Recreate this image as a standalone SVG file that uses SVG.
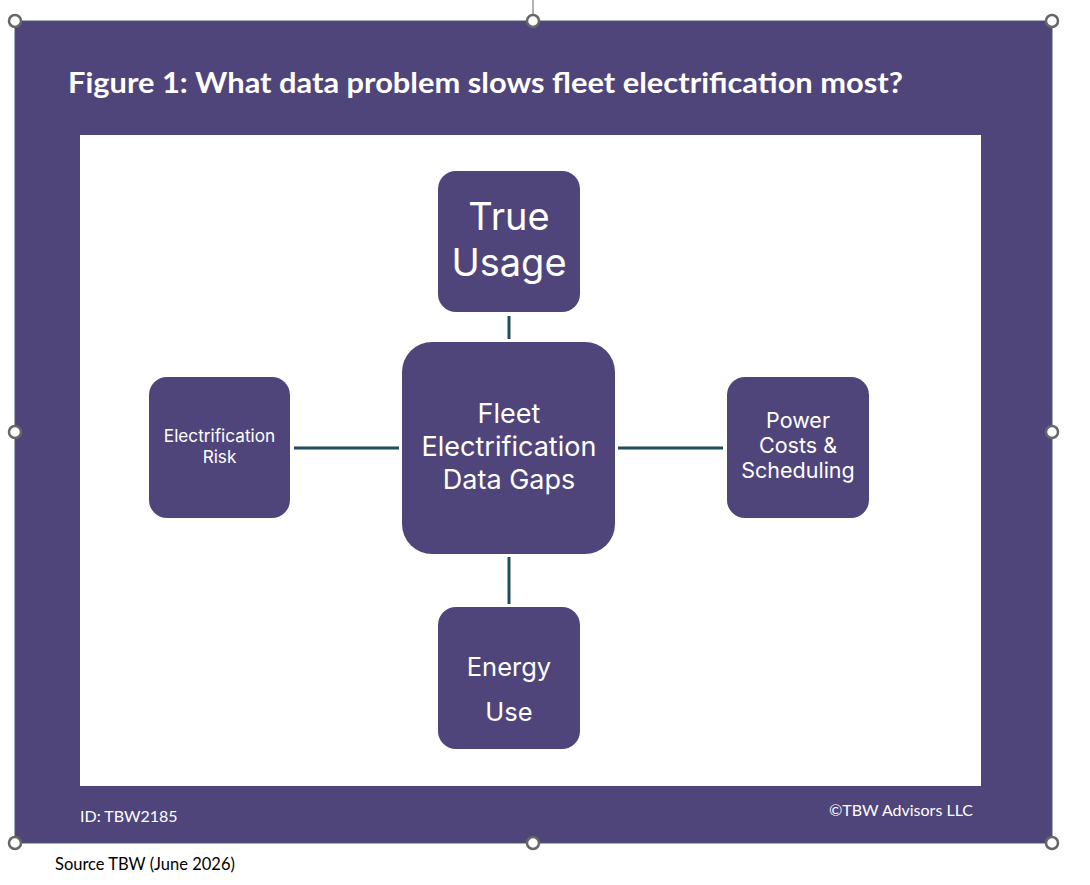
<svg xmlns="http://www.w3.org/2000/svg" width="1090" height="885" viewBox="0 0 1090 885">
<style>
.node{fill:#50457A;}
.nt{fill:#ffffff;font-family:"Inter","Open Sans","Liberation Sans",sans-serif;text-anchor:middle;}
.conn{stroke:#1E4D5E;stroke-width:3;fill:none;}
.handle{fill:#ffffff;stroke:#666666;stroke-width:2.5;}
.foot{fill:#ffffff;font-family:"Lato","Liberation Sans",sans-serif;font-size:16px;}
</style>
<rect x="0" y="0" width="1090" height="885" fill="#ffffff"/>
<rect x="15" y="21" width="1037" height="822" fill="#50457A" stroke="#4a5a6a" stroke-width="1"/>
<rect x="80" y="135" width="901" height="651" fill="#ffffff"/>
<text x="68" y="93" fill="#ffffff" font-family="Lato,'Liberation Sans',sans-serif" font-weight="bold" font-size="28" textLength="835" lengthAdjust="spacingAndGlyphs">Figure 1: What data problem slows fleet electrification most?</text>
<g id="connectors">
<line class="conn" x1="509" y1="316" x2="509" y2="339"/>
<line class="conn" x1="509" y1="557" x2="509" y2="604"/>
<line class="conn" x1="294" y1="448" x2="399" y2="448"/>
<line class="conn" x1="618" y1="448" x2="723" y2="448"/>
</g>
<g id="true-usage">
<rect class="node" x="438" y="171" width="142" height="141" rx="18"/>
<text class="nt" x="509" y="230" font-size="38">True</text>
<text class="nt" x="509" y="276" font-size="38">Usage</text>
</g>
<g id="center">
<rect class="node" x="402" y="342" width="213" height="212" rx="30"/>
<text class="nt" x="509" y="423" font-size="27">Fleet</text>
<text class="nt" x="509" y="456" font-size="27">Electrification</text>
<text class="nt" x="509" y="489" font-size="27">Data Gaps</text>
</g>
<g id="electrification-risk">
<rect class="node" x="149" y="377" width="141" height="141" rx="18"/>
<text class="nt" x="219.5" y="442" font-size="17.2">Electrification</text>
<text class="nt" x="219.5" y="463" font-size="17.2">Risk</text>
</g>
<g id="power-costs">
<rect class="node" x="727" y="377" width="142" height="141" rx="18"/>
<text class="nt" x="798" y="428" font-size="21.5">Power</text>
<text class="nt" x="798" y="453" font-size="21.5">Costs &amp;</text>
<text class="nt" x="798" y="478" font-size="21.5">Scheduling</text>
</g>
<g id="energy-use">
<rect class="node" x="438" y="607" width="142" height="142" rx="18"/>
<text class="nt" x="509" y="676" font-size="25.5">Energy</text>
<text class="nt" x="509" y="721" font-size="25.5">Use</text>
</g>
<text class="foot" x="80" y="822">ID: TBW2185</text>
<text class="foot" x="973" y="816" text-anchor="end">©TBW Advisors LLC</text>
<text x="55" y="870" fill="#000000" font-family="Lato,'Liberation Sans',sans-serif" font-size="16.5">Source TBW (June 2026)</text>
<line x1="533" y1="0" x2="533" y2="21" stroke="#666666" stroke-width="1"/>
<g id="handles">
<circle class="handle" cx="15" cy="21" r="6"/>
<circle class="handle" cx="533" cy="21" r="6"/>
<circle class="handle" cx="1052" cy="21" r="6"/>
<circle class="handle" cx="15" cy="432" r="6"/>
<circle class="handle" cx="1052" cy="432" r="6"/>
<circle class="handle" cx="15" cy="843" r="6"/>
<circle class="handle" cx="533" cy="843" r="6"/>
<circle class="handle" cx="1052" cy="843" r="6"/>
</g>
</svg>
